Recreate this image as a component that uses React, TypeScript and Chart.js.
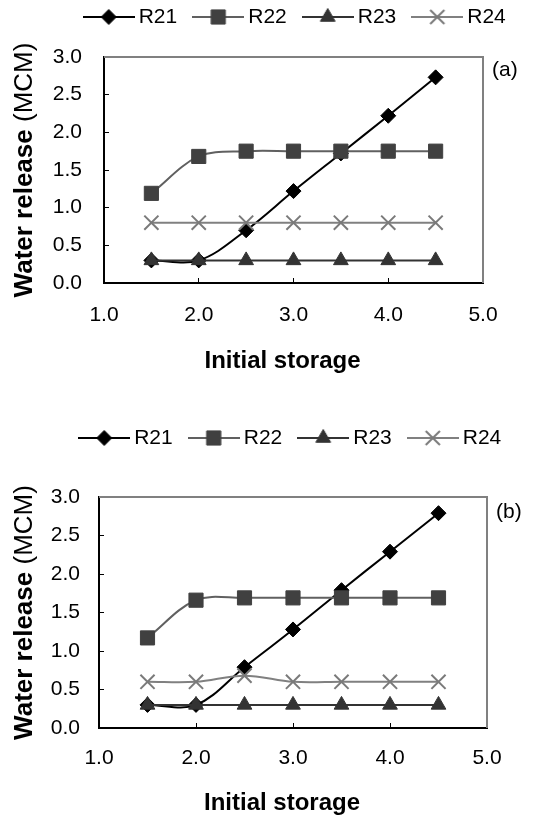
import React, { useEffect, useRef } from 'react';
import { Chart, registerables } from 'chart.js';

Chart.register(...registerables);

const FONT = "'Liberation Sans', Arial, Helvetica, sans-serif";

// ---------- data ----------
const storage = [1.5, 2.0, 2.5, 3.0, 3.5, 4.0, 4.5];
const seriesLabels = ['R21', 'R22', 'R23', 'R24'];
const xTickValues = [1, 2, 3, 4, 5];
const yTickValues = [0, 0.5, 1.0, 1.5, 2.0, 2.5, 3.0];

const r21A = [0.3, 0.3, 0.7, 1.22, 1.72, 2.22, 2.73];
const r22A = [1.19, 1.68, 1.75, 1.75, 1.75, 1.75, 1.75];
const r23A = [0.3, 0.3, 0.3, 0.3, 0.3, 0.3, 0.3];
const r24A = [0.8, 0.8, 0.8, 0.8, 0.8, 0.8, 0.8];

const r21B = [0.3, 0.3, 0.79, 1.28, 1.79, 2.29, 2.79];
const r22B = [1.17, 1.66, 1.69, 1.69, 1.69, 1.69, 1.69];
const r23B = [0.3, 0.3, 0.3, 0.3, 0.3, 0.3, 0.3];
const r24B = [0.6, 0.6, 0.68, 0.6, 0.6, 0.6, 0.6];

const panelLabels = ['(a)', '(b)'];
const xTitle = 'Initial storage';
const yTitleBold = 'Water release';
const yTitleRegular = '(MCM)';

// ---------- styles ----------
type SeriesStyle = { line: string; fill: string; point: string; radius: number; pbw: number };
const STYLES: SeriesStyle[] = [
  { line: '#000000', fill: '#000000', point: 'rectRot', radius: 7.5, pbw: 1 },
  { line: '#606060', fill: '#404040', point: 'rect', radius: 10, pbw: 1 },
  { line: '#333333', fill: '#333333', point: 'triangle', radius: 8.5, pbw: 1 },
  { line: '#808080', fill: '#7a7a7a', point: 'crossRot', radius: 10, pbw: 2 },
];

// legend row: canvas y 0..52.5 (centre at 32); plot area top at padTop + 52.5
const PANELS = [
  {
    series: [r21A, r22A, r23A, r24A],
    label: panelLabels[0],
    top: -15, height: 421,
    yWidth: 104, padRight: 60, padTop: 19.5, xAxisH: 123,
    xTickPad: 25, yTickPad: 27,
    xTitleDy: 78, labelDy: 13, legendShift: 4,
  },
  {
    series: [r21B, r22B, r23B, r24B],
    label: panelLabels[1],
    top: 406, height: 410,
    yWidth: 99, padRight: 56, padTop: 38.5, xAxisH: 88,
    xTickPad: 23, yTickPad: 24,
    xTitleDy: 75, labelDy: 15, legendShift: 0,
  },
];

function drawMarker(ctx: CanvasRenderingContext2D, s: SeriesStyle, cx: number, cy: number) {
  const r = s.radius;
  ctx.save();
  ctx.fillStyle = s.fill;
  ctx.strokeStyle = s.fill;
  ctx.lineWidth = s.pbw;
  ctx.beginPath();
  if (s.point === 'rectRot') {
    ctx.moveTo(cx, cy - r);
    ctx.lineTo(cx + r, cy);
    ctx.lineTo(cx, cy + r);
    ctx.lineTo(cx - r, cy);
    ctx.closePath();
    ctx.fill();
    ctx.stroke();
  } else if (s.point === 'rect') {
    const h = r * Math.SQRT1_2;
    ctx.rect(cx - h, cy - h, 2 * h, 2 * h);
    ctx.fill();
    ctx.stroke();
  } else if (s.point === 'triangle') {
    ctx.moveTo(cx, cy - r);
    ctx.lineTo(cx + r * 0.866, cy + r / 2);
    ctx.lineTo(cx - r * 0.866, cy + r / 2);
    ctx.closePath();
    ctx.fill();
    ctx.stroke();
  } else {
    const d = r * Math.SQRT1_2;
    ctx.moveTo(cx - d, cy - d);
    ctx.lineTo(cx + d, cy + d);
    ctx.moveTo(cx + d, cy - d);
    ctx.lineTo(cx - d, cy + d);
    ctx.stroke();
  }
  ctx.restore();
}

function makeLegendSymbol(s: SeriesStyle): HTMLCanvasElement {
  const c = document.createElement('canvas');
  c.width = 52;
  c.height = 22;
  const ctx = c.getContext('2d')!;
  ctx.strokeStyle = s.line;
  ctx.lineWidth = 2;
  ctx.beginPath();
  ctx.moveTo(0, 11);
  ctx.lineTo(52, 11);
  ctx.stroke();
  drawMarker(ctx, s, 26, 11);
  return c;
}

// centre the legend row over the plot area and lift it to the canvas top
const legendPlacePlugin = {
  id: 'legendPlace',
  afterLayout(chart: any, _args: any, opts: any) {
    const lg = chart.legend;
    if (!lg) return;
    const ca = chart.chartArea;
    const want = (ca.left + ca.right) / 2 + (opts.shift || 0);
    const cur = (lg.left + lg.right) / 2;
    const d = want - cur;
    lg.left += d;
    lg.right += d;
    const dy = -lg.top;
    lg.top += dy;
    lg.bottom += dy;
  },
};

const framePlugin = {
  id: 'plotFrame',
  beforeDatasetsDraw(chart: any) {
    const { ctx, chartArea } = chart;
    ctx.save();
    ctx.strokeStyle = '#808080';
    ctx.lineWidth = 2;
    ctx.beginPath();
    ctx.moveTo(chartArea.left, chartArea.top);
    ctx.lineTo(chartArea.right, chartArea.top);
    ctx.lineTo(chartArea.right, chartArea.bottom);
    ctx.stroke();
    ctx.restore();
  },
};

const textPlugin = {
  id: 'panelText',
  afterDraw(chart: any, _args: any, opts: any) {
    const { ctx, chartArea } = chart;
    ctx.save();
    ctx.fillStyle = '#000';
    // x title
    ctx.font = `bold 24px ${FONT}`;
    ctx.textAlign = 'center';
    ctx.textBaseline = 'middle';
    ctx.fillText(xTitle, (chartArea.left + chartArea.right) / 2 - 11, chartArea.bottom + opts.xTitleDy);
    // panel label
    ctx.font = `21px ${FONT}`;
    ctx.textAlign = 'left';
    ctx.fillText(opts.label, chartArea.right + 9, chartArea.top + opts.labelDy);
    // y title (mixed weight)
    ctx.translate(25, (chartArea.top + chartArea.bottom) / 2);
    ctx.rotate(-Math.PI / 2);
    const bold = `bold 26px ${FONT}`;
    const reg = `26px ${FONT}`;
    ctx.font = bold;
    const w1 = ctx.measureText(yTitleBold + ' ').width;
    ctx.font = reg;
    const w2 = ctx.measureText(yTitleRegular).width;
    const start = -(w1 + w2) / 2;
    ctx.textAlign = 'left';
    ctx.font = bold;
    ctx.fillText(yTitleBold + ' ', start, 0);
    ctx.font = reg;
    ctx.fillText(yTitleRegular, start + w1, 0);
    ctx.restore();
  },
};

function Panel({ cfg }: { cfg: typeof PANELS[number] }) {
  const ref = useRef<HTMLCanvasElement>(null);
  useEffect(() => {
    if (!ref.current) return;
    const symbols = STYLES.map(makeLegendSymbol);
    const datasets = seriesLabels.map((name, i) => ({
      label: name,
      data: storage.map((x, j) => ({ x, y: cfg.series[i][j] })),
      borderColor: STYLES[i].line,
      backgroundColor: STYLES[i].fill,
      borderWidth: 2,
      tension: 0.35,
      pointStyle: STYLES[i].point,
      pointRadius: STYLES[i].radius,
      pointBackgroundColor: STYLES[i].fill,
      pointBorderColor: STYLES[i].fill,
      pointBorderWidth: STYLES[i].pbw,
      order: seriesLabels.length - i,
      clip: false,
    }));
    const tickFont = { family: FONT, size: 21 };
    const chart = new Chart(ref.current, {
      type: 'line',
      data: { datasets },
      plugins: [legendPlacePlugin, framePlugin, textPlugin],
      options: {
        animation: false,
        responsive: false,
        devicePixelRatio: 1,
        layout: { padding: { left: 0, right: cfg.padRight, top: cfg.padTop, bottom: 0 } },
        plugins: {
          tooltip: { enabled: false },
          legend: {
            position: 'top',
            fullSize: true,
            labels: {
              usePointStyle: true,
              pointStyleWidth: 39,
              padding: 21.5,
              color: '#000',
              font: { family: FONT, size: 21 },
              generateLabels: () =>
                seriesLabels.map((name, i) => ({
                  text: name,
                  pointStyle: symbols[i],
                  fillStyle: 'transparent',
                  strokeStyle: 'transparent',
                  lineWidth: 0,
                  hidden: false,
                  datasetIndex: i,
                  fontColor: '#000',
                })),
            },
          },
          legendPlace: { shift: cfg.legendShift },
          panelText: { label: cfg.label, xTitleDy: cfg.xTitleDy, labelDy: cfg.labelDy },
        } as any,
        scales: {
          x: {
            type: 'linear',
            min: 1,
            max: 5,
            afterBuildTicks: (s: any) => { s.ticks = xTickValues.map((v) => ({ value: v })); },
            afterFit: (s: any) => { s.height = cfg.xAxisH; },
            ticks: {
              callback: (v: any) => Number(v).toFixed(1),
              font: tickFont,
              color: '#000',
              padding: cfg.xTickPad,
              maxRotation: 0,
              autoSkip: false,
            },
            grid: { drawOnChartArea: false, drawTicks: true, tickLength: -5, tickColor: '#000', tickWidth: 1 },
            border: { color: '#000', width: 2 },
          },
          y: {
            type: 'linear',
            min: 0,
            max: 3,
            afterBuildTicks: (s: any) => { s.ticks = yTickValues.map((v) => ({ value: v })); },
            afterFit: (s: any) => { s.width = cfg.yWidth; },
            ticks: {
              callback: (v: any) => Number(v).toFixed(1),
              font: tickFont,
              color: '#000',
              padding: cfg.yTickPad,
              autoSkip: false,
            },
            grid: { drawOnChartArea: false, drawTicks: true, tickLength: -5, tickColor: '#000', tickWidth: 1 },
            border: { color: '#000', width: 2 },
          },
        },
      } as any,
    });
    return () => chart.destroy();
  }, [cfg]);
  return (
    <canvas
      ref={ref}
      width={543}
      height={cfg.height}
      style={{ position: 'absolute', left: 0, top: cfg.top, width: 543, height: cfg.height, display: 'block' }}
    />
  );
}

export default function App() {
  return (
    <div style={{ position: 'absolute', left: 0, top: 0, width: 543, height: 816, background: '#fff', overflow: 'hidden' }}>
      {PANELS.map((p, i) => (
        <Panel key={i} cfg={p} />
      ))}
    </div>
  );
}
